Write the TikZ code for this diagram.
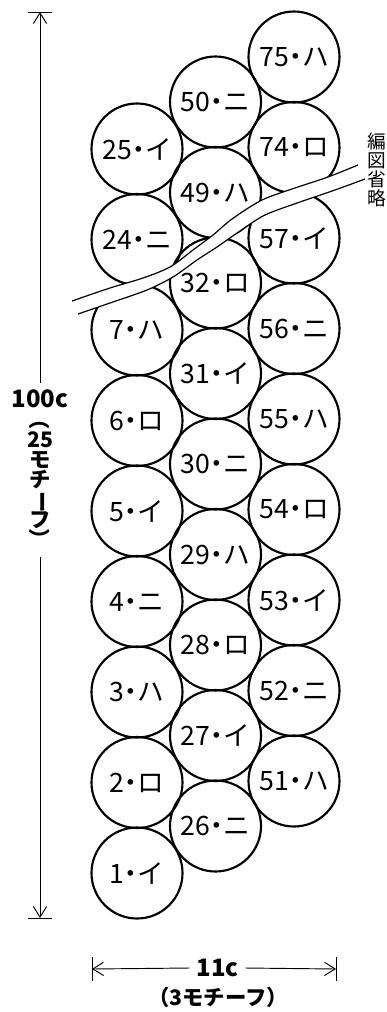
\documentclass[tikz,border=0pt]{standalone}
\usepackage{fontspec}
\usepackage{graphicx}
\setmainfont{Noto Sans CJK JP}
\usetikzlibrary{arrows.meta}
\newcommand{\tate}[1]{\rotatebox[origin=c]{-90}{#1}}

\begin{document}
\begin{tikzpicture}[x=0.75pt, y=-0.75pt,
  motif/.style={circle, draw, line width=1.6pt, minimum size=68.25pt, inner sep=0pt,
    font=\fontsize{20}{20}\selectfont},
  dimline/.style={line width=0.7pt},
  dimtip/.style={dimline, -{Straight Barb[length=8pt, width=10pt]}},
  breakline/.style={line width=0.9pt}]

  \useasboundingbox (0,0) rectangle (386,1012);

  % three columns of motifs
  \foreach \num/\kana [count=\k from 0] in {1/イ,2/ロ,3/ハ,4/ニ,5/イ,6/ロ,7/ハ,24/ニ,25/イ}
    \node[motif] (m\num) at (137,{873-90.5*\k}) {\num\kern-5pt・\kern-5pt\kana};
  \foreach \num/\kana [count=\k from 0] in {26/ニ,27/イ,28/ロ,29/ハ,30/ニ,31/イ,32/ロ,49/ハ,50/ニ}
    \node[motif] (m\num) at (215.5,{826-90.5*\k}) {\num\kern-5pt・\kern-5pt\kana};
  \foreach \num/\kana [count=\k from 0] in {51/ハ,52/ニ,53/イ,54/ロ,55/ハ,56/ニ,57/イ,74/ロ,75/ハ}
    \node[motif] (m\num) at (294,{781-90.5*\k}) {\num\kern-5pt・\kern-5pt\kana};

  % break band
  \fill[white] plot[smooth] coordinates {(72,301) (110,288) (143,278) (170,267) (193,250)
      (213,235) (232,219) (262,200) (295,188) (328,177) (358,165)}
    -- plot[smooth] coordinates {(365,179) (335,190) (300,202) (265,215) (240,231)
      (217,247) (197,260) (173,277) (147,290) (110,303) (78,314)} -- cycle;
  \draw[breakline] plot[smooth] coordinates {(72,301) (110,288) (143,278) (170,267) (193,250)
      (213,235) (232,219) (262,200) (295,188) (328,177) (358,165)};
  \draw[breakline] plot[smooth] coordinates {(78,314) (110,303) (147,290) (173,277) (197,260)
      (217,247) (240,231) (265,215) (300,202) (335,190) (365,179)};
  \node[align=center, inner sep=0pt,
    font={\fontsize{14}{14.25}\selectfont\lineskiplimit=-20pt}] (omit) at (377,170)
    {編\\図\\省\\略};

  % height
  \coordinate (htop) at (40,12);
  \coordinate (hbot) at (40,918);
  \node[align=center, inner xsep=0pt, inner ysep=5pt,
    font={\fontsize{16}{15}\selectfont\bfseries\lineskiplimit=-20pt}] (dimh) at (40,470)
    {{\fontsize{18}{15}\selectfont 100c}\\\tate{（}\\25\\モ\\チ\\\tate{ー}\\フ\\\tate{）}};
  \draw[dimtip] (dimh.north) -- (htop);
  \draw[dimtip] (dimh.south) -- (hbot);
  \draw[dimline] (htop) ++(-12,0) -- ++(24,0);
  \draw[dimline] (hbot) ++(-12,0) -- ++(24,0);

  % width
  \coordinate (wleft) at (92,969);
  \coordinate (wright) at (336,969);
  \node[inner xsep=5pt, inner ysep=0pt, font=\fontsize{18}{18}\selectfont\bfseries]
    (dimw) at (217.5,968) {11c};
  \draw[dimtip] (dimw.west) -- (wleft);
  \draw[dimtip] (dimw.east) -- (wright);
  \draw[dimline] (wleft) ++(0,-12) -- ++(0,24);
  \draw[dimline] (wright) ++(0,-12) -- ++(0,24);
  \node[font=\fontsize{16}{16}\selectfont\bfseries] (dimwnote) at (218,997) {（3モチーフ）};
\end{tikzpicture}
\end{document}
